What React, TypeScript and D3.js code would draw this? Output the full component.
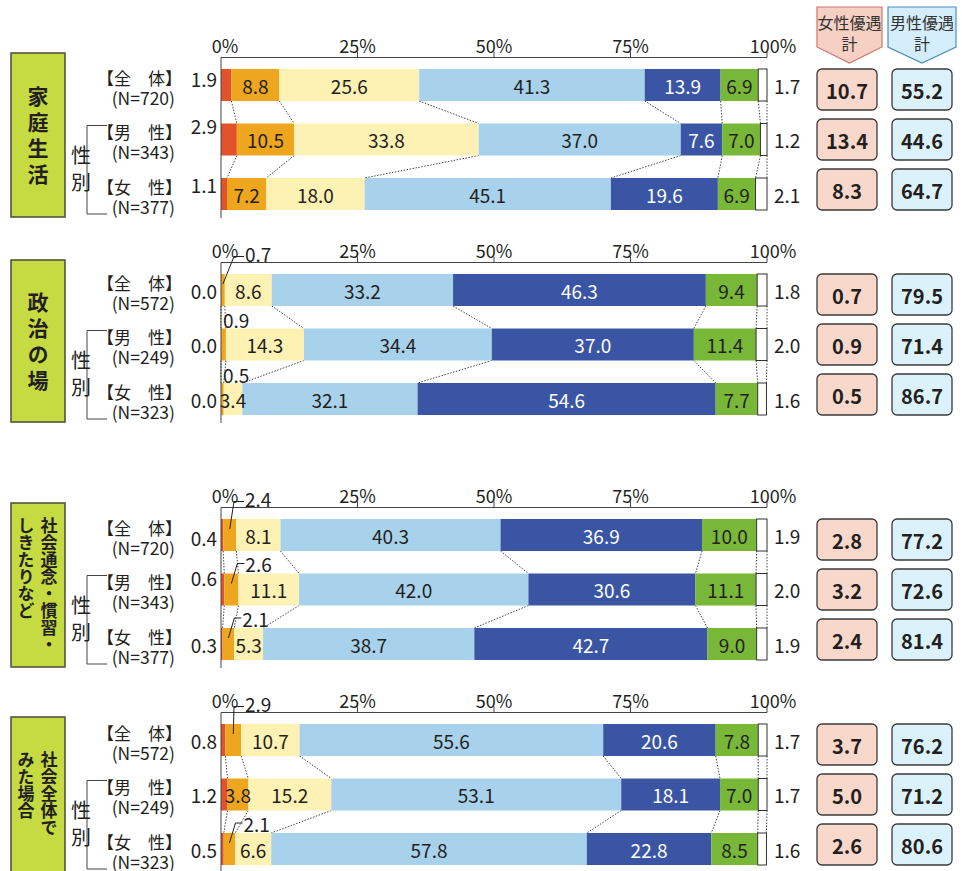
import React from "react";
import * as d3 from "d3";

// ---------- data ----------
const SEGMENTS = [
  "女性の方が非常に優遇されている",
  "どちらかといえば女性の方が優遇されている",
  "平等",
  "どちらかといえば男性の方が優遇されている",
  "男性の方が非常に優遇されている",
  "わからない",
  "無回答",
];
const FIELD_COLUMNS = [["家庭生活"], ["政治の場"], ["社会通念・慣習・", "しきたりなど"], ["社会全体で", "みた場合"]];
const GROUP_LABELS = ["【全　体】", "【男　性】", "【女　性】"];
const SAMPLE_N = [
  [720, 343, 377],
  [572, 249, 323],
  [720, 343, 377],
  [572, 249, 323],
];
const FAMILY = [
  [1.9, 8.8, 25.6, 41.3, 13.9, 6.9, 1.7],
  [2.9, 10.5, 33.8, 37.0, 7.6, 7.0, 1.2],
  [1.1, 7.2, 18.0, 45.1, 19.6, 6.9, 2.1],
];
const POLITICS = [
  [0.0, 0.7, 8.6, 33.2, 46.3, 9.4, 1.8],
  [0.0, 0.9, 14.3, 34.4, 37.0, 11.4, 2.0],
  [0.0, 0.5, 3.4, 32.1, 54.6, 7.7, 1.6],
];
const CUSTOMS = [
  [0.4, 2.4, 8.1, 40.3, 36.9, 10.0, 1.9],
  [0.6, 2.6, 11.1, 42.0, 30.6, 11.1, 2.0],
  [0.3, 2.1, 5.3, 38.7, 42.7, 9.0, 1.9],
];
const SOCIETY = [
  [0.8, 2.9, 10.7, 55.6, 20.6, 7.8, 1.7],
  [1.2, 3.8, 15.2, 53.1, 18.1, 7.0, 1.7],
  [0.5, 2.1, 6.6, 57.8, 22.8, 8.5, 1.6],
];
const FEMALE_TOTAL = [
  [10.7, 13.4, 8.3],
  [0.7, 0.9, 0.5],
  [2.8, 3.2, 2.4],
  [3.7, 5.0, 2.6],
];
const MALE_TOTAL = [
  [55.2, 44.6, 64.7],
  [79.5, 71.4, 86.7],
  [77.2, 72.6, 81.4],
  [76.2, 71.2, 80.6],
];
const TICKS = [0, 25, 50, 75, 100];
const HEADERS = [["女性優遇", "計"], ["男性優遇", "計"]];

const PANEL_VALUES = [FAMILY, POLITICS, CUSTOMS, SOCIETY];

// ---------- style / layout ----------
const COLORS = ["#e2532b", "#eea61f", "#fdf1b3", "#a8d2ec", "#3b55a5", "#79b738", "#ffffff"];
const FONT = "'Noto Sans CJK JP', 'Noto Sans', sans-serif";
const INK = "#231f20";
const ROW_TOP = [69, 274, 519, 724];
const BOX_TOP = [53, 260, 503, 717];
const ROW_STEP = 54.5;
const BAR_H = 32;
const LEFT_DY = [
  [-7, -14, -10],
  [0, 0, 0],
  [2, -12, 0],
  [0, 0, 0],
];
const PLAIN_SMALL_PANELS = [1];
const PAGE_H = 871;

const x = d3.scaleLinear().domain([0, 100]).range([221, 767]);

function Panel({ pi }: { pi: number }) {
  const values = PANEL_VALUES[pi];
  const top0 = ROW_TOP[pi];
  const y = d3
    .scaleBand<number>()
    .domain([0, 1, 2])
    .range([top0, top0 + ROW_STEP * 2 + BAR_H])
    .paddingInner(1 - BAR_H / ROW_STEP)
    .paddingOuter(0);
  const bw = y.bandwidth();
  const axisY = top0 - 11.5;
  const cums = values.map((r) => [0, ...Array.from(d3.cumsum(r))]);
  const lastBottom = (y(2) as number) + bw;
  const boxTop = BOX_TOP[pi];
  const boxBottom = lastBottom + 7;
  const boxCx = 38;
  const cols = FIELD_COLUMNS[pi];
  const twoCol = cols.length > 1;
  const fs = twoCol ? 17 : 21;
  const advance = twoCol ? 17 : 26;
  const maxLen = d3.max(cols, (c) => Array.from(c).length) as number;
  const visBottom = Math.min(boxBottom, PAGE_H);
  const textLen = maxLen * advance - (advance - fs);
  const textStart = boxTop + (visBottom - boxTop - textLen) / 2;

  const elements: React.ReactNode[] = [];

  // category box
  elements.push(
    <rect key="box" x={11} y={boxTop} width={54} height={boxBottom - boxTop} fill="#c6da42" stroke="#4a4a3a" strokeWidth={1.5} />
  );
  cols.forEach((col, ci) => {
    const cx = twoCol ? (ci === 0 ? boxCx + 11 : boxCx - 12) : boxCx;
    elements.push(
      <text
        key={`f${ci}`}
        x={cx}
        y={textStart}
        fontSize={fs}
        fontWeight={700}
        writingMode="vertical-rl"
        letterSpacing={advance - fs}
        textAnchor="start"
        fill={INK}
      >
        {col}
      </text>
    );
  });

  // group labels
  values.forEach((_, ri) => {
    const c = (y(ri) as number) + bw / 2;
    elements.push(
      <text key={`g${ri}`} x={182} y={c - 8} fontSize={17} textAnchor="end" dominantBaseline="central" fill={INK}>
        {GROUP_LABELS[ri]}
      </text>
    );
    elements.push(
      <text key={`n${ri}`} x={175} y={c + 12} fontSize={17.5} textAnchor="end" dominantBaseline="central" fill={INK}>
        {`(N=${SAMPLE_N[pi][ri]})`}
      </text>
    );
  });
  // sex bracket
  const r1Top = y(1) as number;
  const r1c = r1Top + bw / 2;
  elements.push(
    <path key="br" d={`M107,${r1Top + 2} H87 V${lastBottom + 4} H107`} fill="none" stroke="#444" strokeWidth={1} />
  );
  elements.push(
    <text key="sx1" x={81} y={r1c + 15} fontSize={20} textAnchor="middle" dominantBaseline="central" fill={INK}>
      性
    </text>
  );
  elements.push(
    <text key="sx2" x={81} y={r1c + 42} fontSize={20} textAnchor="middle" dominantBaseline="central" fill={INK}>
      別
    </text>
  );

  // connectors
  for (let ri = 0; ri < values.length - 1; ri++) {
    for (let k = 1; k < cums[ri].length; k++) {
      elements.push(
        <line
          key={`c${ri}-${k}`}
          x1={x(Math.min(100, cums[ri][k]))}
          y1={(y(ri) as number) + bw}
          x2={x(Math.min(100, cums[ri + 1][k]))}
          y2={y(ri + 1) as number}
          stroke="#444"
          strokeWidth={1}
          strokeDasharray="1.5 1.5"
        />
      );
    }
  }

  // bars
  values.forEach((row, ri) => {
    const top = y(ri) as number;
    row.forEach((v, k) => {
      const x0 = x(cums[ri][k]);
      const x1 = x(Math.min(100, cums[ri][k + 1]));
      elements.push(
        <rect
          key={`b${ri}-${k}`}
          x={x0}
          y={top}
          width={Math.max(0, x1 - x0)}
          height={bw}
          fill={COLORS[k]}
          stroke={k === 6 ? "#333" : "none"}
          strokeWidth={k === 6 ? 1 : 0}
        />
      );
    });
  });

  // axis
  elements.push(<line key="ax" x1={x(0)} x2={x(100)} y1={axisY} y2={axisY} stroke="#444" strokeWidth={1} />);
  elements.push(<line key="ay" x1={x(0)} x2={x(0)} y1={axisY} y2={lastBottom + 8} stroke="#444" strokeWidth={1} />);
  TICKS.forEach((t) => {
    if (t > 0)
      elements.push(<line key={`t${t}`} x1={x(t)} x2={x(t)} y1={axisY - 6} y2={axisY} stroke="#444" strokeWidth={1} />);
    elements.push(
      <text
        key={`tl${t}`}
        x={x(t) + (t === 0 ? 4 : t === 100 ? 6 : 0)}
        y={axisY - 13}
        fontSize={18}
        textAnchor="middle"
        dominantBaseline="central"
        fill={INK}
      >
        {`${t}%`}
      </text>
    );
  });

  // value labels
  values.forEach((row, ri) => {
    const top = y(ri) as number;
    const c = top + bw / 2;
    row.forEach((v, k) => {
      const label = v.toFixed(1);
      const mid = x(cums[ri][k] + v / 2);
      if (k === 0) {
        elements.push(
          <text key={`l${ri}-${k}`} x={217} y={c + LEFT_DY[pi][ri]} fontSize={19} textAnchor="end" dominantBaseline="central" fill={INK}>
            {label}
          </text>
        );
      } else if (k === 6) {
        elements.push(
          <text key={`l${ri}-${k}`} x={774} y={c} fontSize={19} textAnchor="start" dominantBaseline="central" fill={INK}>
            {label}
          </text>
        );
      } else if (k === 1 && v < 3) {
        if (PLAIN_SMALL_PANELS.includes(pi) && ri > 0) {
          elements.push(
            <text key={`l${ri}-${k}`} x={223} y={top - 9} fontSize={19} textAnchor="start" dominantBaseline="central" fill={INK}>
              {label}
            </text>
          );
        } else {
          const first = ri === 0;
          const ex = first ? x(0) + 13 : mid + 6;
          const ey = first ? axisY - 6 : top - 10;
          const hx = first ? x(0) + 23 : ex + 7;
          elements.push(
            <path
              key={`ld${ri}`}
              d={`M${mid},${top + 10} L${ex},${ey} H${hx}`}
              fill="none"
              stroke={INK}
              strokeWidth={1}
            />
          );
          elements.push(
            <text key={`l${ri}-${k}`} x={hx + 1} y={ey - (first ? 3 : 0)} fontSize={19} textAnchor="start" dominantBaseline="central" fill={INK}>
              {label}
            </text>
          );
        }
      } else {
        elements.push(
          <text
            key={`l${ri}-${k}`}
            x={mid}
            y={c}
            fontSize={19}
            textAnchor="middle"
            dominantBaseline="central"
            fill={k === 4 ? "#ffffff" : INK}
          >
            {label}
          </text>
        );
      }
    });
  });

  // totals badges
  const midC = r1c;
  [FEMALE_TOTAL, MALE_TOTAL].forEach((tot, ti) => {
    const bx = ti === 0 ? 817 : 892;
    tot[pi].forEach((v, ri) => {
      const cy = midC + (ri - 1) * 50;
      elements.push(
        <rect
          key={`bd${ti}-${ri}`}
          x={bx}
          y={cy - 20.5}
          width={60}
          height={41}
          rx={5}
          fill={ti === 0 ? "#f9d8cc" : "#dbf2fb"}
          stroke="#3a3a3a"
          strokeWidth={1.3}
        />
      );
      elements.push(
        <text key={`bt${ti}-${ri}`} x={bx + 30} y={cy + 1} fontSize={20} fontWeight={700} textAnchor="middle" dominantBaseline="central" fill={INK}>
          {v.toFixed(1)}
        </text>
      );
    });
  });

  return <g>{elements}</g>;
}

export default function App() {
  return (
    <svg
      width={962}
      height={PAGE_H}
      viewBox={`0 0 962 ${PAGE_H}`}
      style={{ position: "absolute", left: 0, top: 0, background: "#ffffff" }}
      fontFamily={FONT}
    >
      <rect x={0} y={0} width={962} height={PAGE_H} fill="#ffffff" />
      {/* headers */}
      {HEADERS.map((h, i) => {
        const l = i === 0 ? 817 : 888;
        const r = i === 0 ? 882 : 956;
        const cx = (l + r) / 2;
        return (
          <g key={`h${i}`}>
            <path
              d={`M${l},7 H${r} V47 L${cx},63 L${l},47 Z`}
              fill={i === 0 ? "#f7d0c4" : "#d3edf9"}
              stroke={i === 0 ? "#c9786a" : "#4f8ec7"}
              strokeWidth={1.2}
            />
            <text x={cx} y={22} fontSize={16} textAnchor="middle" dominantBaseline="central" fill="#333">
              {h[0]}
            </text>
            <text x={cx} y={43} fontSize={16} textAnchor="middle" dominantBaseline="central" fill="#333">
              {h[1]}
            </text>
          </g>
        );
      })}
      {PANEL_VALUES.map((_, pi) => (
        <Panel key={pi} pi={pi} />
      ))}
      <desc>{SEGMENTS.join(" / ")}</desc>
    </svg>
  );
}
